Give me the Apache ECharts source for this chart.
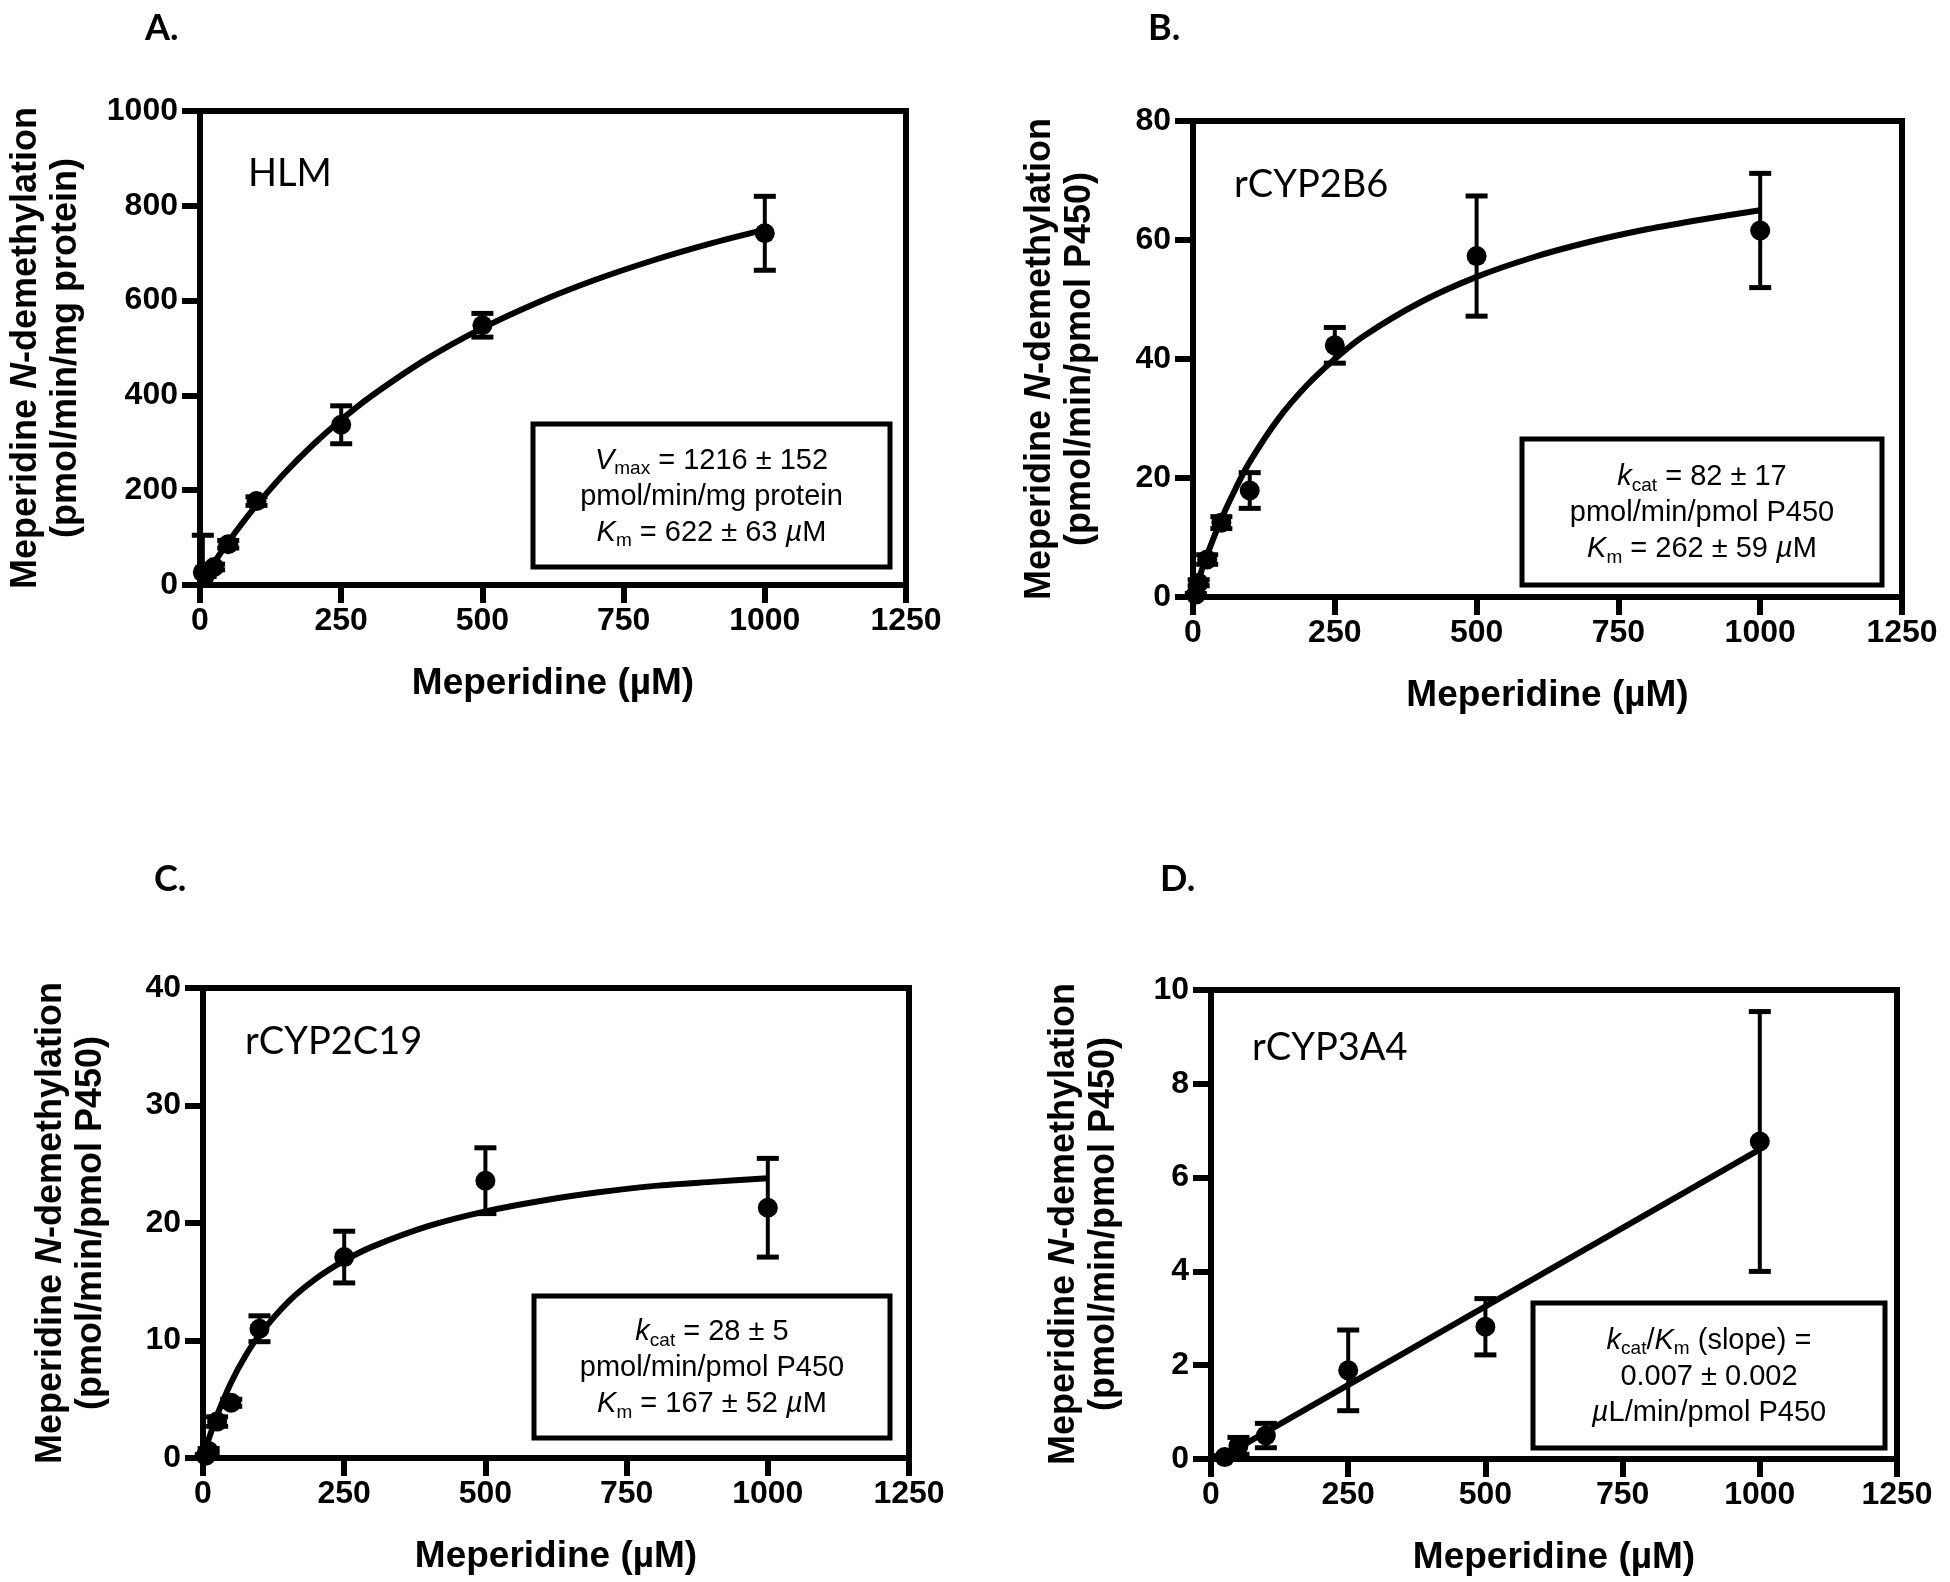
<!DOCTYPE html>
<html><head><meta charset="utf-8">
<script src="https://cdn.jsdelivr.net/npm/echarts/dist/echarts.min.js"></script>
<style>html,body{margin:0;padding:0;background:#fff}#c{width:1950px;height:1582px}</style>
</head><body><div id="c"></div><script>
// ---------- data ----------
const xTicks = [0, 250, 500, 750, 1000, 1250];

const concA = [5, 10, 25, 50, 100, 250, 500, 1000];
const meanA = [27, 22, 38, 86, 177, 338, 548, 742];
const sdA   = [78, 4, 6, 8, 9, 40, 25, 78];
const fitXA = [0, 10, 25, 50, 75, 100, 150, 200, 250, 300, 400, 500, 600, 700, 800, 900, 1000];
const fitYA = [0, 19.2, 47.0, 90.5, 130.8, 168.4, 236.3, 295.9, 348.6, 395.7, 475.9, 541.9, 597.1, 643.9, 684.1, 719.1, 749.7];

const concB = [5, 10, 25, 50, 100, 250, 500, 1000];
const meanB = [0.4, 2.4, 6.3, 12.5, 17.9, 42.3, 57.3, 61.6];
const sdB   = [0.2, 0.5, 0.8, 1.0, 3.0, 3.0, 10.1, 9.6];
const fitXB = [0, 10, 25, 50, 75, 100, 150, 200, 250, 300, 400, 500, 600, 700, 800, 900, 1000];
const fitYB = [0, 3.0, 7.1, 13.1, 18.2, 22.7, 29.9, 35.5, 40.0, 43.8, 49.5, 53.8, 57.1, 59.7, 61.8, 63.5, 65.0];

const concC = [5, 10, 25, 50, 100, 250, 500, 1000];
const meanC = [0.2, 0.6, 3.1, 4.7, 11.0, 17.1, 23.6, 21.3];
const sdC   = [0.1, 0.2, 0.4, 0.3, 1.1, 2.2, 2.8, 4.2];
const fitXC = [0, 10, 25, 50, 75, 100, 150, 200, 250, 300, 400, 500, 600, 700, 800, 900, 1000];
const fitYC = [0, 1.58, 3.65, 6.45, 8.68, 10.49, 13.25, 15.26, 16.79, 17.99, 19.75, 20.99, 21.90, 22.61, 23.16, 23.50, 23.80];

const concD = [25, 50, 100, 250, 500, 1000];
const meanD = [0.04, 0.28, 0.5, 1.89, 2.82, 6.77];
const sdD   = [0.03, 0.18, 0.26, 0.86, 0.6, 2.77];
const fitXD = [25, 1000];
const fitYD = [0.07, 6.6];

// ---------- layout / style ----------
const FONT = "'Liberation Sans', Arial, Helvetica, sans-serif";
const LFONT = "Lato, 'Open Sans', 'Liberation Sans', sans-serif";

const panels = [
  {grid:{left:200, top:111, width:706, height:474}, yMax:1000, yInt:200,
   conc:concA, mean:meanA, sd:sdA, fx:fitXA, fy:fitYA, smooth:true},
  {grid:{left:1193, top:121, width:709, height:476}, yMax:80, yInt:20,
   conc:concB, mean:meanB, sd:sdB, fx:fitXB, fy:fitYB, smooth:true},
  {grid:{left:203, top:988, width:706, height:470}, yMax:40, yInt:10,
   conc:concC, mean:meanC, sd:sdC, fx:fitXC, fy:fitYC, smooth:true},
  {grid:{left:1211, top:990, width:686, height:469}, yMax:10, yInt:2,
   conc:concD, mean:meanD, sd:sdD, fx:fitXD, fy:fitYD, smooth:false}
];

const fmt = v => String(v);
const grids = [], xAxes = [], yAxes = [], series = [];
panels.forEach((p, i) => {
  grids.push(Object.assign({show:true, borderColor:'#000', borderWidth:6, backgroundColor:'transparent'}, p.grid));
  xAxes.push({
    gridIndex:i, type:'value', min:xTicks[0], max:xTicks[xTicks.length-1], interval:250,
    axisLine:{onZero:false, lineStyle:{color:'#000', width:6}},
    axisTick:{show:true, length:18, lineStyle:{color:'#000', width:6}},
    axisLabel:{margin:20, color:'#000', fontFamily:FONT, fontWeight:'bold', fontSize:32, formatter:fmt, showMinLabel:true, showMaxLabel:true},
    splitLine:{show:false},
    name:'Meperidine (µM)', nameLocation:'middle', nameGap:80,
    nameTextStyle:{color:'#000', fontFamily:FONT, fontWeight:'bold', fontSize:37}
  });
  yAxes.push({
    gridIndex:i, type:'value', min:0, max:p.yMax, interval:p.yInt,
    axisLine:{onZero:false, lineStyle:{color:'#000', width:6}},
    axisTick:{show:true, length:18, lineStyle:{color:'#000', width:6}},
    axisLabel:{margin:22, color:'#000', fontFamily:FONT, fontWeight:'bold', fontSize:32, formatter:fmt, showMinLabel:true, showMaxLabel:true},
    splitLine:{show:false}
  });
  series.push({
    type:'line', xAxisIndex:i, yAxisIndex:i, data:p.fx.map((x,k)=>[x,p.fy[k]]),
    smooth:p.smooth ? 0.3 : false, showSymbol:false, symbol:'none',
    lineStyle:{color:'#000', width:6}, z:3, silent:true
  });
  series.push({
    type:'custom', xAxisIndex:i, yAxisIndex:i,
    data:p.conc.map((x,k)=>[x, p.mean[k]-p.sd[k], p.mean[k]+p.sd[k]]),
    renderItem:(params, api) => {
      const x = api.value(0), lo = api.value(1), hi = api.value(2);
      const pLo = api.coord([x, Math.max(lo, 0)]), pHi = api.coord([x, hi]);
      const cw = 11;
      const ch = [
        {type:'line', shape:{x1:pLo[0], y1:pLo[1], x2:pHi[0], y2:pHi[1]}, style:{stroke:'#000', lineWidth:4}},
        {type:'line', shape:{x1:pHi[0]-cw, y1:pHi[1], x2:pHi[0]+cw, y2:pHi[1]}, style:{stroke:'#000', lineWidth:5}}
      ];
      if (lo >= 0) ch.push({type:'line', shape:{x1:pLo[0]-cw, y1:pLo[1], x2:pLo[0]+cw, y2:pLo[1]}, style:{stroke:'#000', lineWidth:5}});
      return {type:'group', children:ch};
    }, z:4, silent:true
  });
  series.push({
    type:'scatter', xAxisIndex:i, yAxisIndex:i, data:p.conc.map((x,k)=>[x,p.mean[k]]),
    symbol:'circle', symbolSize:20, itemStyle:{color:'#000', opacity:1}, z:5, silent:true
  });
});

// ---------- annotations ----------
const yTitleRich = {
  b:{fontFamily:FONT, fontWeight:'bold', fontSize:36, lineHeight:40, fill:'#000', color:'#000'},
  bi:{fontFamily:FONT, fontWeight:'bold', fontStyle:'italic', fontSize:36, lineHeight:40, fill:'#000', color:'#000'}
};
const boxRich = {
  n:{fontFamily:FONT, fontSize:29, lineHeight:36},
  i:{fontFamily:FONT, fontSize:29, lineHeight:36, fontStyle:'italic'},
  s:{fontFamily:FONT, fontSize:19, lineHeight:19, padding:[17,0,0,0]}
};
const yTitles = [
  {x:46, y:348, unit:'(pmol/min/mg protein)'},
  {x:1060, y:359, unit:'(pmol/min/pmol P450)'},
  {x:71, y:1223, unit:'(pmol/min/pmol P450)'},
  {x:1084, y:1224, unit:'(pmol/min/pmol P450)'}
];
const letters = [
  {t:'A.', x:145, y:28}, {t:'B.', x:1148, y:28}, {t:'C.', x:154, y:879}, {t:'D.', x:1160, y:879}
];
const insets = [
  {t:'HLM', x:248, y:174}, {t:'rCYP2B6', x:1234, y:185}, {t:'rCYP2C19', x:245, y:1042}, {t:'rCYP3A4', x:1252, y:1048}
];
const boxes = [
  {x:533, y:424, w:357, h:143,
   text:'{i|V}{s|max}{n| = 1216 ± 152}\n{n|pmol/min/mg protein}\n{i|K}{s|m}{n| = 622 ± 63 }{i|µ}{n|M}'},
  {x:1522, y:439, w:360, h:146,
   text:'{i|k}{s|cat}{n| = 82 ± 17}\n{n|pmol/min/pmol P450}\n{i|K}{s|m}{n| = 262 ± 59 }{i|µ}{n|M}'},
  {x:534, y:1296, w:356, h:142,
   text:'{i|k}{s|cat}{n| = 28 ± 5}\n{n|pmol/min/pmol P450}\n{i|K}{s|m}{n| = 167 ± 52 }{i|µ}{n|M}'},
  {x:1533, y:1303, w:352, h:145,
   text:'{i|k}{s|cat}{n|/}{i|K}{s|m}{n| (slope) =}\n{n|0.007 ± 0.002}\n{i|µ}{n|L/min/pmol P450}'}
];

const graphic = [];
yTitles.forEach(t => graphic.push({
  type:'text', x:t.x, y:t.y, rotation:Math.PI/2, z:10,
  style:{text:'{b|Meperidine }{bi|N}{b|-demethylation}\n{b|' + t.unit + '}', rich:yTitleRich,
         align:'center', verticalAlign:'middle', textAlign:'center', textVerticalAlign:'middle', fill:'#000'}
}));
letters.forEach(l => graphic.push({
  type:'text', x:l.x, y:l.y, z:10,
  style:{text:l.t, fontFamily:LFONT, fontWeight:'bold', fontSize:36, fill:'#000',
         align:'left', verticalAlign:'middle', textAlign:'left', textVerticalAlign:'middle'}
}));
insets.forEach(l => graphic.push({
  type:'text', x:l.x, y:l.y, z:10,
  style:{text:l.t, fontFamily:LFONT, fontSize:38, fill:'#000',
         align:'left', verticalAlign:'middle', textAlign:'left', textVerticalAlign:'middle'}
}));
boxes.forEach(b => {
  graphic.push({type:'rect', shape:{x:b.x, y:b.y, width:b.w, height:b.h}, z:10,
    style:{fill:'#fff', stroke:'#000', lineWidth:5}});
  graphic.push({type:'text', x:b.x + b.w/2, y:b.y + b.h/2 + 1, z:11,
    style:{text:b.text, rich:boxRich, fill:'#000', align:'center', verticalAlign:'middle',
           textAlign:'center', textVerticalAlign:'middle'}});
});

const chart = echarts.init(document.getElementById('c'), null, {renderer:'canvas'});
chart.setOption({
  animation:false, backgroundColor:'#fff',
  grid:grids, xAxis:xAxes, yAxis:yAxes, series:series, graphic:graphic
});
</script></body></html>
